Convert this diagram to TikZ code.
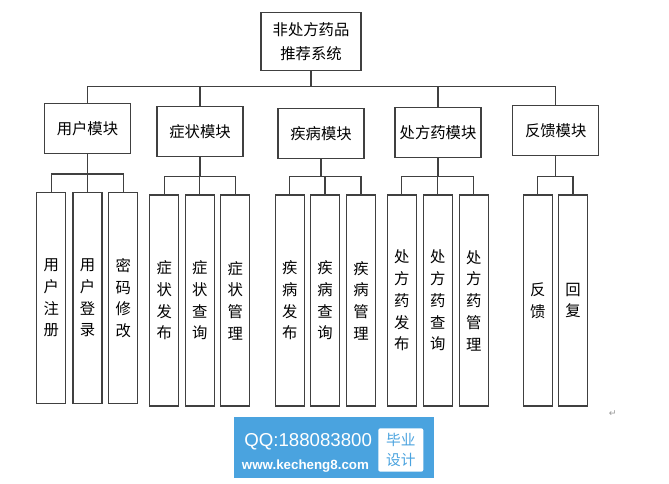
\documentclass[tikz,border=0pt]{standalone}
\usepackage{fontspec}
\setmainfont{Noto Sans CJK SC}
\newfontfamily\latinfont{Liberation Sans}
\newfontfamily\symfont{DejaVu Sans}
\definecolor{markblue}{HTML}{4AA3DF}

\tikzset{
  box/.style={draw=black!75, line width=0.9pt, inner sep=0pt, align=center,
    font=\fontsize{11.5}{18}\selectfont},
  modbox/.style={box, minimum width=64.5pt, minimum height=37.5pt},
  subbox/.style={box, minimum width=21.75pt, minimum height=158.25pt,
    font=\fontsize{11.5}{16.3}\selectfont},
  link/.style={draw=black!75, line width=0.8pt},
}

\begin{document}
\begin{tikzpicture}[x=0.75pt,y=-0.75pt]
\useasboundingbox (0,0) rectangle (669,483);

% top
\node[box, minimum width=75pt, minimum height=44pt] (sys) at (311,41.5) {非处方药品\\推荐系统};

% modules
\node[modbox] (user) at (87.5,128.5) {用户模块};
\node[modbox] (symptom) at (200,131.3) {症状模块};
\node[modbox] (disease) at (321,133.7) {疾病模块};
\node[modbox] (drug) at (438,132.2) {处方药模块};
\node[modbox] (feedback) at (555.7,130.8) {反馈模块};

% sub functions
\node[subbox] (user1) at (51.2,298) {用\\户\\注\\册};
\node[subbox] (user2) at (87.5,298) {用\\户\\登\\录};
\node[subbox] (user3) at (123.3,298) {密\\码\\修\\改};

\node[subbox] (symptom1) at (164.3,300.5) {症\\状\\发\\布};
\node[subbox] (symptom2) at (199.8,300.5) {症\\状\\查\\询};
\node[subbox] (symptom3) at (235.3,300.5) {症\\状\\管\\理};

\node[subbox] (disease1) at (289.7,300.5) {疾\\病\\发\\布};
\node[subbox] (disease2) at (325,300.5) {疾\\病\\查\\询};
\node[subbox] (disease3) at (361,300.5) {疾\\病\\管\\理};

\node[subbox] (drug1) at (401.8,300.5) {处\\方\\药\\发\\布};
\node[subbox] (drug2) at (437.8,300.5) {处\\方\\药\\查\\询};
\node[subbox] (drug3) at (473.7,300.5) {处\\方\\药\\管\\理};

\node[subbox] (feedback1) at (537.8,300.5) {反\\馈};
\node[subbox] (feedback2) at (573,300.5) {回\\复};

% buses
\coordinate (topbus) at (0,86.7);
\coordinate (userbus) at (0,174);
\coordinate (subbus) at (0,176.7);

\draw[link] (sys.south) -- (sys.south |- topbus);
\draw[link] (user.north) -- (user.north |- topbus) -- (feedback.north |- topbus) -- (feedback.north);
\draw[link] (symptom.north) -- (symptom.north |- topbus);
\draw[link] (drug.north) -- (drug.north |- topbus);

\draw[link] (user.south) -- (user.south |- userbus);
\draw[link] (user1.north) -- (user1.north |- userbus) -- (user3.north |- userbus) -- (user3.north);
\draw[link] (user2.north) -- (user2.north |- userbus);

\draw[link] (symptom.south) -- (symptom.south |- subbus);
\draw[link] (symptom1.north) -- (symptom1.north |- subbus) -- (symptom3.north |- subbus) -- (symptom3.north);
\draw[link] (symptom2.north) -- (symptom2.north |- subbus);

\draw[link] (disease.south) -- (disease.south |- subbus);
\draw[link] (disease1.north) -- (disease1.north |- subbus) -- (disease3.north |- subbus) -- (disease3.north);
\draw[link] (disease2.north) -- (disease2.north |- subbus);

\draw[link] (drug.south) -- (drug.south |- subbus);
\draw[link] (drug1.north) -- (drug1.north |- subbus) -- (drug3.north |- subbus) -- (drug3.north);
\draw[link] (drug2.north) -- (drug2.north |- subbus);

\draw[link] (feedback.south) -- (feedback.south |- subbus);
\draw[link] (feedback1.north) -- (feedback1.north |- subbus) -- (feedback2.north |- subbus) -- (feedback2.north);

% paragraph mark
\node[text=black!40, font=\symfont\fontsize{7}{7}\selectfont] (retmark) at (612.7,414) {↵};

% watermark
\fill[markblue] (234,417) rectangle (434,478);
\node[fill=white, rounded corners=1.5pt, minimum width=33.75pt, minimum height=32.5pt, inner sep=0pt] (wmtag) at (400.8,450) {};
\node[text=markblue, align=center, font=\fontsize{11}{15.5}\selectfont] (wmtext) at (wmtag) {毕业\\设计};
\node[text=white, anchor=base west, inner sep=0pt, font=\latinfont\fontsize{14}{14}\selectfont] (wmqq) at (244,446.7) {QQ:188083800};
\node[text=white, anchor=base west, inner sep=0pt, font=\latinfont\bfseries\fontsize{10}{10}\selectfont] (wmurl) at (241.7,469.5) {www.kecheng8.com};
\end{tikzpicture}
\end{document}
